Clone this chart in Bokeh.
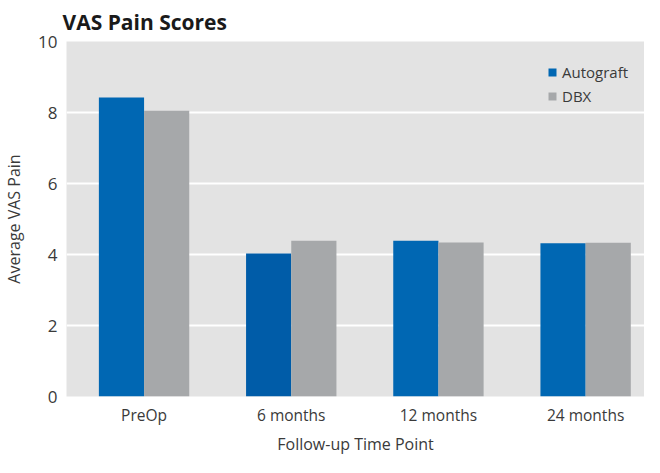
from bokeh.plotting import figure
from bokeh.models import Range1d, FixedTicker, ColumnDataSource, Legend, LegendItem
from bokeh.embed import file_html
from bokeh.resources import INLINE

categories = ["PreOp", "6 months", "12 months", "24 months"]
autograft = [8.42, 4.03, 4.39, 4.32]
dbx = [8.05, 4.39, 4.34, 4.33]
y_ticks = [0, 2, 4, 6, 8, 10]

BLUE = "#0067b3"
GRAY = "#a6a8aa"
BG = "#e3e3e3"
FONT = "Open Sans"
# the 6-month Autograft bar is printed a shade darker in the original
autograft_colors = [BLUE, "#005ca8", BLUE, BLUE]

idx = list(range(len(categories)))
bw = 0.307
src = ColumnDataSource(dict(
    xa=[i - bw / 2 for i in idx],
    xd=[i + bw / 2 for i in idx],
    a=autograft,
    d=dbx,
    ca=autograft_colors,
))

p = figure(width=644, height=457, output_backend="svg", toolbar_location=None,
           x_range=Range1d(-0.527, 3.40), y_range=Range1d(0, 10),
           min_border_left=0, min_border_right=0, min_border_top=2, min_border_bottom=0)

ra = p.vbar(x="xa", top="a", width=bw, bottom=0, source=src, fill_color="ca", line_color=None)
rd = p.vbar(x="xd", top="d", width=bw, bottom=0, source=src, fill_color=GRAY, line_color=None)

p.title.text = "VAS Pain Scores"
p.title.text_font = FONT
p.title.text_font_style = "bold"
p.title.text_font_size = "21px"
p.title.text_color = "#1a1a1a"
p.title.offset = -4
p.title.standoff = 11

p.background_fill_color = BG
p.border_fill_color = "white"
p.outline_line_color = None

p.xgrid.grid_line_color = None
p.ygrid.grid_line_color = "white"
p.ygrid.grid_line_width = 2
p.ygrid.ticker = FixedTicker(ticks=y_ticks)

p.xaxis.ticker = FixedTicker(ticks=idx)
p.xaxis.major_label_overrides = {i: c for i, c in zip(idx, categories)}
p.yaxis.ticker = FixedTicker(ticks=y_ticks)

for ax in (p.xaxis[0], p.yaxis[0]):
    ax.axis_line_color = None
    ax.major_tick_line_color = None
    ax.minor_tick_line_color = None
    ax.major_tick_out = 0
    ax.major_tick_in = 0
    ax.minor_tick_out = 0
    ax.major_label_text_font = FONT
    ax.major_label_text_color = "#3a3a3a"
    ax.axis_label_text_font = FONT
    ax.axis_label_text_font_style = "normal"
    ax.axis_label_text_color = "#3a3a3a"

p.yaxis.major_label_text_font_size = "17px"
p.xaxis.major_label_text_font_size = "15.5px"
p.xaxis.major_label_text_line_height = 1.0
p.xaxis.axis_label_text_line_height = 1.0
p.yaxis.axis_label = "Average VAS Pain"
p.xaxis.axis_label = "Follow-up Time Point"
p.yaxis.axis_label_text_font_size = "16px"
p.xaxis.axis_label_text_font_size = "16px"
p.yaxis.major_label_standoff = 9
p.xaxis.major_label_standoff = 7
p.xaxis.axis_label_standoff = 4
p.yaxis.axis_label_standoff = 10

legend = Legend(items=[LegendItem(label="Autograft", renderers=[ra], index=0),
                       LegendItem(label="DBX", renderers=[rd], index=0)],
                location=(481, 290), orientation="vertical")
legend.label_text_font = FONT
legend.label_text_font_size = "15px"
legend.label_text_color = "#3a3a3a"
legend.glyph_width = 10
legend.glyph_height = 10
legend.label_height = 19
legend.spacing = 4
legend.padding = 0
legend.margin = 0
legend.label_standoff = 5
legend.background_fill_alpha = 0
legend.border_line_alpha = 0
p.add_layout(legend, "center")

open("out.html", "w").write(file_html(p, INLINE))
